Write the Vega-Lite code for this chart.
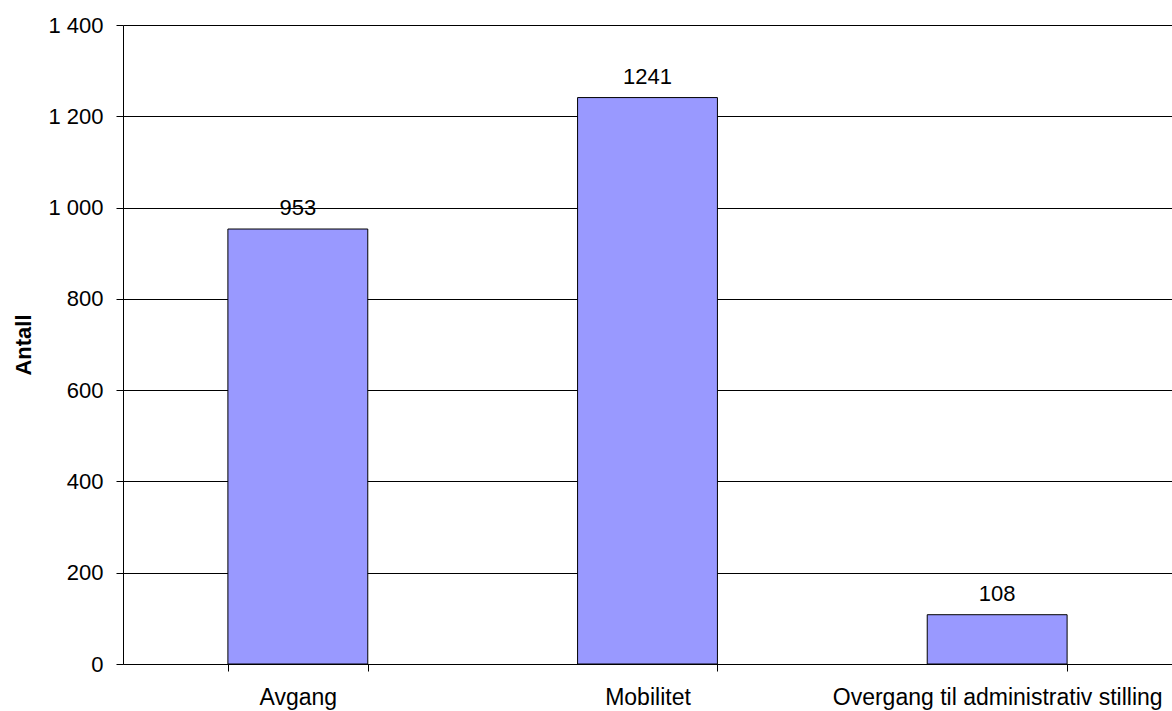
{
  "$schema": "https://vega.github.io/schema/vega-lite/v6.json",
  "autosize": "none",
  "width": 1049,
  "height": 639,
  "padding": {"left": 123, "top": 25, "right": 0, "bottom": 47},
  "background": "white",
  "config": {
    "view": {"stroke": null},
    "font": "Liberation Sans"
  },
  "data": {
    "values": [
      {"kategori": "Avgang", "antall": 953},
      {"kategori": "Mobilitet", "antall": 1241},
      {"kategori": "Overgang til administrativ stilling", "antall": 108}
    ]
  },
  "encoding": {
    "x": {
      "field": "kategori",
      "type": "nominal",
      "sort": null,
      "scale": {"paddingInner": 0.6, "paddingOuter": 0.3},
      "axis": {
        "title": null,
        "labelAngle": 0,
        "labelFont": "Liberation Sans",
        "labelFontSize": 23,
        "labelColor": "black",
        "labelPadding": 15,
        "labelLimit": 0,
        "labelOverlap": false,
        "tickBand": "extent",
        "tickSize": 7,
        "tickColor": "black",
        "domainColor": "black",
        "grid": false
      }
    },
    "y": {
      "field": "antall",
      "type": "quantitative",
      "scale": {"domain": [0, 1400], "nice": false},
      "axis": {
        "title": "Antall",
        "titleFont": "Liberation Sans",
        "titleFontSize": 22,
        "titleFontWeight": "bold",
        "titleColor": "black",
        "titlePadding": 12,
        "values": [0, 200, 400, 600, 800, 1000, 1200, 1400],
        "labelExpr": "replace(format(datum.value, ','), ',', ' ')",
        "labelFont": "Liberation Sans",
        "labelFontSize": 22,
        "labelColor": "black",
        "labelPadding": 13,
        "tickSize": 7,
        "tickColor": "black",
        "domainColor": "black",
        "gridColor": "black",
        "gridOpacity": 1,
        "gridWidth": 1
      }
    }
  },
  "layer": [
    {
      "mark": {"type": "bar", "color": "#9999FF", "stroke": "black", "strokeWidth": 1}
    },
    {
      "mark": {"type": "text", "baseline": "alphabetic", "dy": -14, "fontSize": 22, "font": "Liberation Sans", "color": "black"},
      "encoding": {"text": {"field": "antall", "type": "quantitative", "format": "d"}}
    }
  ]
}
